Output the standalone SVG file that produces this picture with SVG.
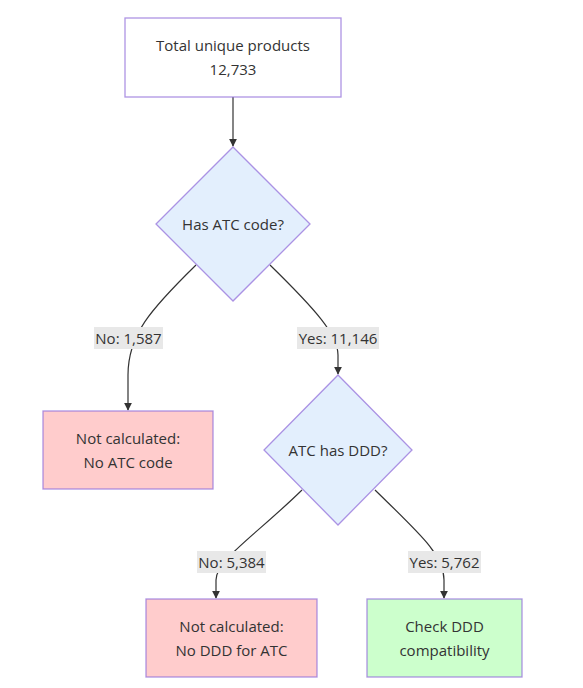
<svg xmlns="http://www.w3.org/2000/svg" width="583" height="688" viewBox="0 0 583 688">
<style>
text{font-family:"Open Sans","Liberation Sans",sans-serif;font-size:15px;fill:#333;text-anchor:middle;dominant-baseline:central}
.box{stroke:#9370DB;stroke-opacity:0.75;stroke-width:1.3}
.edge{fill:none;stroke:#333;stroke-width:1.2}
.lbl{fill:#e8e8e8}
</style>
<defs>
<marker id="arr" viewBox="0 0 10 10" refX="9" refY="5" markerWidth="8" markerHeight="8" markerUnits="userSpaceOnUse" orient="auto">
<path d="M0,0 L10,5 L0,10 z" fill="#333"/>
</marker>
</defs>
<rect width="583" height="688" fill="#fff"/>
<g id="connectors">
<path class="edge" d="M233,97 L233,146" marker-end="url(#arr)"/>
<path class="edge" d="M196,265 C150,310 128,335 128,375 L128,410" marker-end="url(#arr)"/>
<path class="edge" d="M270,265 C316,310 338,335 338,355 L338,374" marker-end="url(#arr)"/>
<path class="edge" d="M302,490 C256,535 216,560 216,580 L216,598" marker-end="url(#arr)"/>
<path class="edge" d="M375,490 C421,535 444,555 444,580 L444,598" marker-end="url(#arr)"/>
<rect class="lbl" x="94" y="327" width="69" height="22"/>
<text x="128.5" y="337.5">No: 1,587</text>
<rect class="lbl" x="297" y="327" width="82" height="22"/>
<text x="338" y="337.5">Yes: 11,146</text>
<rect class="lbl" x="197" y="551" width="69" height="22"/>
<text x="231.5" y="561.5">No: 5,384</text>
<rect class="lbl" x="408" y="551" width="73" height="22"/>
<text x="444.5" y="561.5">Yes: 5,762</text>
</g>
<g id="total">
<rect class="box" x="125" y="18" width="216" height="79" fill="#fff"/>
<text x="233" y="45">Total unique products</text>
<text x="233" y="69">12,733</text>
</g>
<g id="hasATC">
<polygon class="box" points="233,147 310,224 233,301 156,224" fill="#e3effd"/>
<text x="233" y="223.5">Has ATC code?</text>
</g>
<g id="noATC">
<rect class="box" x="43" y="411" width="170" height="78" fill="#ffcccc"/>
<text x="128" y="438">Not calculated:</text>
<text x="128" y="462">No ATC code</text>
</g>
<g id="hasDDD">
<polygon class="box" points="338,375 412,450 338,525 264,450" fill="#e3effd"/>
<text x="338" y="449.5">ATC has DDD?</text>
</g>
<g id="noDDD">
<rect class="box" x="146" y="599" width="171" height="78" fill="#ffcccc"/>
<text x="231.5" y="625.5">Not calculated:</text>
<text x="231.5" y="649.5">No DDD for ATC</text>
</g>
<g id="check">
<rect class="box" x="367" y="599" width="155" height="78" fill="#ccffcc"/>
<text x="444.5" y="625.5">Check DDD</text>
<text x="444.5" y="649.5">compatibility</text>
</g>
</svg>
